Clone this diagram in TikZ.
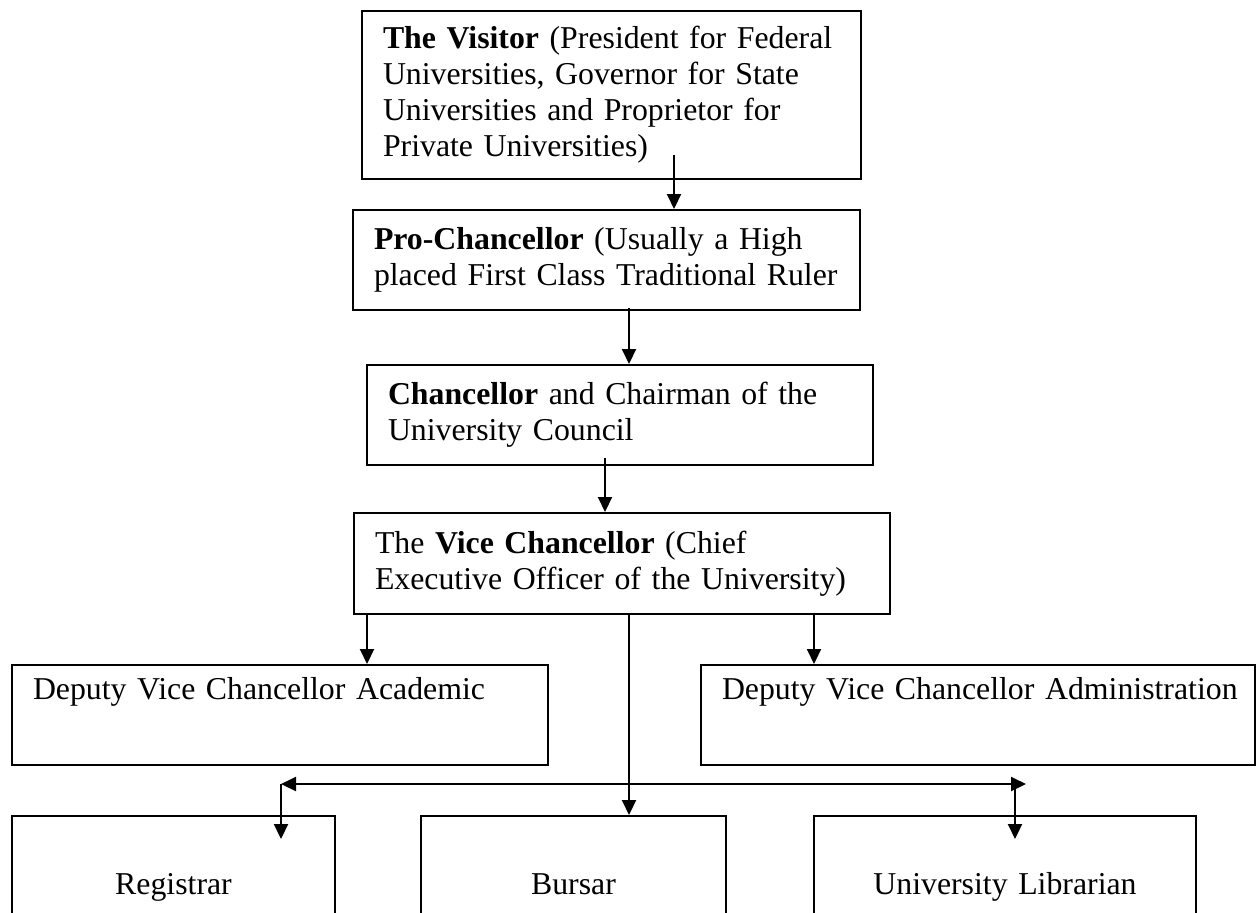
\documentclass[tikz,border=0pt]{standalone}
\usepackage{fontspec}
\setmainfont{Liberation Serif}
\usetikzlibrary{arrows.meta}

\begin{document}
\begin{tikzpicture}[x=0.5pt, y=-0.5pt,
    box/.style={rectangle, draw, line width=1pt, anchor=north west, inner xsep=10.5pt, inner ysep=0pt,
      align=left, font=\fontsize{15.9pt}{18pt}\selectfont},
    deputy/.style={text height=17pt, text depth=33pt},
    office/.style={align=center, text height=39pt, text depth=26pt},
    arr/.style={line width=1pt, -{Triangle[length=7.5pt, width=7pt]}},
    twoway/.style={line width=1pt, {Triangle[length=7.5pt, width=7pt]}-{Triangle[length=7.5pt, width=7pt]}}]
    \useasboundingbox (0,0) rectangle (1256,912);
    \clip (0,0) rectangle (1256,912);

    % chain of command
    \node[box, text width=228.5pt, minimum height=84pt] (visitor) at (361,10)
    {\textbf{The Visitor} (President for Federal\\
    Universities, Governor for State\\
    Universities and Proprietor for\\
    Private Universities)};
    \node[box, text width=232.5pt, minimum height=50pt] (pro) at (352,209)
    {\textbf{Pro-Chancellor} (Usually a High\\
    placed First Class Traditional Ruler};
    \node[box, text width=232pt, minimum height=50pt] (chancellor) at (366,364)
    {\textbf{Chancellor} and Chairman of the\\
    University Council};
    \node[box, text width=247pt, minimum height=50.5pt] (vc) at (353,512)
    {The \textbf{Vice Chancellor} (Chief\\
    Executive Officer of the University)};

    % deputies
    \node[box, deputy, text width=247pt] (dvca) at (11,664) {Deputy Vice Chancellor Academic};
    \node[box, deputy, text width=256pt] (dvcadm) at (700,664) {\mbox{Deputy Vice Chancellor Administration}};

    % principal officers
    \node[box, office, text width=140.5pt] (registrar) at (11,815) {Registrar};
    \node[box, office, text width=131.5pt] (bursar) at (420,815) {Bursar};
    \node[box, office, text width=170pt] (librarian) at (813,815) {University Librarian};

    \draw[arr] ([xshift=31.25pt, yshift=12.5pt]visitor.south) -- ([xshift=31.25pt]visitor.south |- pro.north);
    \draw[arr] ([xshift=11.25pt, yshift=1.5pt]pro.south) -- ([xshift=11.25pt]pro.south |- chancellor.north);
    \draw[arr] ([xshift=-7.5pt, yshift=4pt]chancellor.south) -- ([xshift=-7.5pt]chancellor.south |- vc.north);

    \draw[arr] ([xshift=-127.5pt]vc.south) -- ([xshift=-127.5pt]vc.south |- dvca.north);
    \draw[arr] ([xshift=3.5pt]vc.south) -- ([xshift=3.5pt]vc.south |- bursar.north);
    \draw[arr] ([xshift=96pt]vc.south) -- ([xshift=96pt]vc.south |- dvcadm.north);

    \coordinate (splitl) at (281,784);
    \coordinate (splitr) at (1026,784);
    \draw[twoway] (splitl) -- (splitr);
    \draw[arr] (splitl) -- ([yshift=-12pt]splitl |- registrar.north);
    \draw[arr] ([xshift=-5.5pt]splitr) -- ([xshift=-5.5pt, yshift=-12pt]splitr |- librarian.north);
\end{tikzpicture}
\end{document}
